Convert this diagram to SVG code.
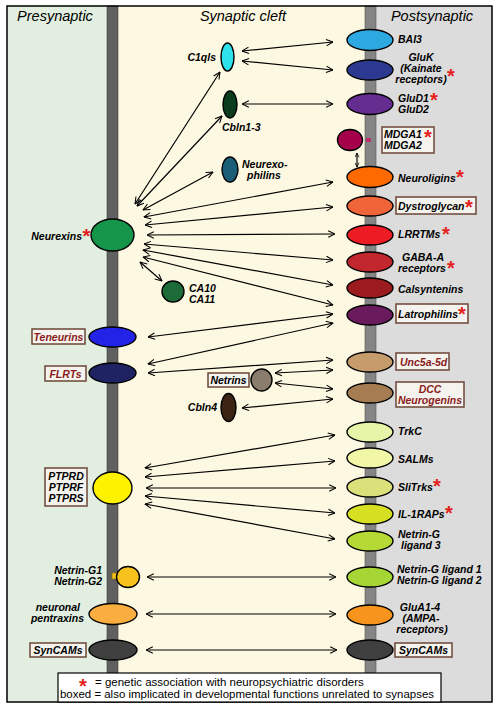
<svg xmlns="http://www.w3.org/2000/svg" width="500" height="709" viewBox="0 0 500 709">
<defs>
<marker id="ah" viewBox="0 0 10 10" refX="9.5" refY="5" markerWidth="8" markerHeight="8" markerUnits="userSpaceOnUse" orient="auto-start-reverse">
<path d="M1,1 L9.5,5 L1,9" fill="none" stroke="#000" stroke-width="1.3"/>
</marker>
<marker id="ahs" viewBox="0 0 10 10" refX="9.5" refY="5" markerWidth="5" markerHeight="5" markerUnits="userSpaceOnUse" orient="auto-start-reverse">
<path d="M1,1 L9.5,5 L1,9" fill="none" stroke="#000" stroke-width="1.6"/>
</marker>
<style>
.hd{font-family:"Liberation Sans",Arial,sans-serif;font-style:italic;font-size:14.5px;fill:#000}
.lb{font-family:"Liberation Sans",Arial,sans-serif;font-style:italic;font-weight:bold;font-size:10.5px;fill:#000}
.rd{fill:#8b1a1a}
.ast{font-family:"Liberation Sans",Arial,sans-serif;font-style:normal;font-weight:bold;font-size:20px;fill:#e3211c}
.nd{stroke:#000;stroke-width:1.4}
.bx{fill:#f4f3ee;stroke:#6b4636;stroke-width:1.5}
.cn line{stroke:#000;stroke-width:1.2;marker-start:url(#ah);marker-end:url(#ah)}
.cn line.sm{marker-start:url(#ahs);marker-end:url(#ahs)}
.lg{font-family:"Liberation Sans",Arial,sans-serif;font-size:11.5px;fill:#000}
</style>
</defs>
<g id="background">
<rect x="7" y="6" width="100" height="696" fill="#e2efe0"/>
<rect x="118" y="6" width="247" height="696" fill="#fdf8e1"/>
<rect x="376" y="6" width="116" height="696" fill="#dcdcdc"/>
<rect x="107" y="6" width="11" height="696" fill="#606060" stroke="#3a3a3a" stroke-width="0.6"/>
<rect x="365" y="6" width="11" height="696" fill="#858585" stroke="#555" stroke-width="0.6"/>
<rect x="7" y="6" width="485" height="696" fill="none" stroke="#000" stroke-width="1.5"/>
<text class="hd" x="55" y="21" text-anchor="middle">Presynaptic</text>
<text class="hd" x="243" y="21" text-anchor="middle">Synaptic cleft</text>
<text class="hd" x="432" y="21" text-anchor="middle">Postsynaptic</text>
</g>
<g class="cn" id="connectors">
<line x1="242" y1="51" x2="333" y2="42"/>
<line x1="242" y1="61" x2="333" y2="70"/>
<line x1="242" y1="104" x2="333" y2="104"/>
<line class="sm" x1="357" y1="153" x2="357" y2="167"/>
<line x1="135" y1="204" x2="220" y2="72"/>
<line x1="137" y1="206" x2="222" y2="116"/>
<line x1="143" y1="210" x2="213" y2="172"/>
<line x1="144" y1="217" x2="333" y2="182"/>
<line x1="145" y1="225" x2="333" y2="207"/>
<line x1="147" y1="235" x2="335" y2="234"/>
<line x1="144" y1="244" x2="333" y2="260"/>
<line x1="143" y1="250" x2="333" y2="285"/>
<line x1="143" y1="257" x2="333" y2="305"/>
<line x1="140" y1="262" x2="162" y2="281"/>
<line x1="148" y1="337" x2="333" y2="314"/>
<line x1="148" y1="364" x2="333" y2="323"/>
<line x1="148" y1="373" x2="333" y2="360"/>
<line x1="275" y1="373" x2="333" y2="370"/>
<line x1="275" y1="383" x2="333" y2="389"/>
<line x1="242" y1="408" x2="333" y2="399"/>
<line x1="145" y1="468" x2="335" y2="435"/>
<line x1="145" y1="477" x2="335" y2="461"/>
<line x1="146" y1="488" x2="336" y2="488"/>
<line x1="145" y1="496" x2="335" y2="513"/>
<line x1="145" y1="504" x2="335" y2="539"/>
<line x1="147" y1="577" x2="336" y2="577"/>
<line x1="146" y1="614" x2="336" y2="614"/>
<line x1="146" y1="650" x2="337" y2="650"/>
</g>
<g id="neurexins"><ellipse class="nd" cx="112.5" cy="235" rx="21.5" ry="16" fill="#15954a"/><text class="lb" x="82" y="240" text-anchor="end">Neurexins</text><text class="ast" x="82.5" y="243">*</text></g>
<g id="teneurins"><ellipse class="nd" cx="112.5" cy="337" rx="23.5" ry="10" fill="#2323e8"/><rect class="bx" x="32" y="329" width="53" height="15"/><text class="lb rd" x="58.5" y="341" text-anchor="middle">Teneurins</text></g>
<g id="flrts"><ellipse class="nd" cx="112.5" cy="373" rx="23.5" ry="10" fill="#1f2263"/><rect class="bx" x="45" y="366" width="41" height="15"/><text class="lb rd" x="65.5" y="378" text-anchor="middle">FLRTs</text></g>
<g id="ptpr"><ellipse class="nd" cx="112.5" cy="488" rx="19.5" ry="16" fill="#fff200"/><rect class="bx" x="45" y="468" width="42" height="38"/><text class="lb" text-anchor="middle"><tspan x="66" y="480">PTPRD</tspan><tspan x="66" y="491">PTPRF</tspan><tspan x="66" y="502">PTPRS</tspan></text></g>
<g id="netrin-g12"><rect x="112" y="573" width="6" height="6" fill="#f5c21b" stroke="#8a6a00" stroke-width="0.6"/><ellipse class="nd" cx="128" cy="577" rx="11.5" ry="10.5" fill="#f7c21b"/><text class="lb" text-anchor="end"><tspan x="102" y="574">Netrin-G1</tspan><tspan x="102" y="585">Netrin-G2</tspan></text></g>
<g id="pentraxins"><ellipse class="nd" cx="113" cy="614" rx="24" ry="10.5" fill="#fbae40"/><text class="lb" text-anchor="end"><tspan x="80" y="611">neuronal</tspan><tspan x="84" y="622">pentraxins</tspan></text></g>
<g id="syncams-pre"><ellipse class="nd" cx="113" cy="650" rx="24" ry="10" fill="#3f3f3f"/><rect class="bx" x="30" y="643" width="56" height="14"/><text class="lb" x="58" y="654" text-anchor="middle">SynCAMs</text></g>
<g id="c1qls"><ellipse class="nd" cx="227.5" cy="57" rx="6.5" ry="14" fill="#2ee2ea"/><text class="lb" x="216" y="61" text-anchor="end">C1qls</text></g>
<g id="cbln13"><ellipse class="nd" cx="230" cy="104.5" rx="7" ry="13.5" fill="#0b3d1c"/><text class="lb" x="222" y="131">Cbln1-3</text></g>
<g id="neurexophilins"><ellipse class="nd" cx="230" cy="169.5" rx="8" ry="12.5" fill="#1b5e78"/><text class="lb"><tspan x="242" y="168">Neurexo-</tspan><tspan x="247" y="179">philins</tspan></text></g>
<g id="ca10"><ellipse class="nd" cx="173" cy="291.5" rx="11" ry="10.5" fill="#1e6b3a"/><text class="lb"><tspan x="189" y="292">CA10</tspan><tspan x="189" y="303">CA11</tspan></text></g>
<g id="netrins"><ellipse class="nd" cx="261.5" cy="380" rx="10.5" ry="11" fill="#8a7d6e"/><rect class="bx" x="208" y="373" width="41" height="14"/><text class="lb" x="228.5" y="384" text-anchor="middle" fill="#3b2314">Netrins</text></g>
<g id="cbln4"><ellipse class="nd" cx="228.5" cy="407.5" rx="7.5" ry="14" fill="#3c2415"/><text class="lb" x="217" y="411" text-anchor="end">Cbln4</text></g>
<g id="bai3"><ellipse class="nd" cx="370" cy="40" rx="23" ry="10.5" fill="#2ea8e0"/><text class="lb" x="398" y="43">BAI3</text></g>
<g id="gluk"><ellipse class="nd" cx="370" cy="70" rx="23" ry="10" fill="#2b3990"/><text class="lb" text-anchor="middle"><tspan x="421" y="61">GluK</tspan><tspan x="421" y="72">(Kainate</tspan><tspan x="421" y="83">receptors)</tspan></text><text class="ast" x="447" y="83">*</text></g>
<g id="glud"><ellipse class="nd" cx="370" cy="104" rx="23" ry="10.5" fill="#662d91"/><text class="lb"><tspan x="398" y="102">GluD1</tspan><tspan x="398" y="113">GluD2</tspan></text><text class="ast" x="430" y="107">*</text></g>
<g id="mdga"><ellipse class="nd" cx="350" cy="140" rx="12.5" ry="10.5" fill="#a5004a"/><rect x="366" y="138" width="5" height="4" fill="#c0306a"/><rect class="bx" x="382" y="127" width="52" height="26"/><text class="lb"><tspan x="384" y="138">MDGA1</tspan><tspan x="384" y="149">MDGA2</tspan></text><text class="ast" x="424" y="144">*</text></g>
<g id="neuroligins"><ellipse class="nd" cx="370" cy="177" rx="23" ry="10.5" fill="#ff6a00"/><text class="lb" x="398" y="182">Neuroligins</text><text class="ast" x="456" y="184">*</text></g>
<g id="dystroglycan"><ellipse class="nd" cx="370" cy="206" rx="23" ry="10" fill="#f0643a"/><rect class="bx" x="396" y="197" width="80" height="17"/><text class="lb" x="398" y="210">Dystroglycan</text><text class="ast" x="465" y="214">*</text></g>
<g id="lrrtms"><ellipse class="nd" cx="370" cy="235" rx="23" ry="10" fill="#ed1c24"/><text class="lb" x="398" y="238">LRRTMs</text><text class="ast" x="442" y="241">*</text></g>
<g id="gabaa"><ellipse class="nd" cx="370" cy="262" rx="23" ry="10" fill="#c1272d"/><text class="lb"><tspan x="402" y="261">GABA-A</tspan><tspan x="398" y="272">receptors</tspan></text><text class="ast" x="447" y="275">*</text></g>
<g id="calsyntenins"><ellipse class="nd" cx="370" cy="288" rx="23" ry="10" fill="#9b1b1f"/><text class="lb" x="398" y="293">Calsyntenins</text></g>
<g id="latrophilins"><ellipse class="nd" cx="370" cy="315" rx="23" ry="10" fill="#6a1b5e"/><rect class="bx" x="396" y="304" width="72" height="19"/><text class="lb" x="398" y="318">Latrophilins</text><text class="ast" x="458" y="321">*</text></g>
<g id="unc5"><ellipse class="nd" cx="370" cy="362" rx="23" ry="10" fill="#c69c6d"/><rect class="bx" x="396" y="353" width="53" height="17"/><text class="lb rd" x="400" y="366">Unc5a-5d</text></g>
<g id="dcc"><ellipse class="nd" cx="370" cy="393" rx="23" ry="10" fill="#a67c52"/><rect class="bx" x="396" y="382" width="68" height="25"/><text class="lb rd" text-anchor="middle"><tspan x="430" y="393">DCC</tspan><tspan x="430" y="404">Neurogenins</tspan></text></g>
<g id="trkc"><ellipse class="nd" cx="370" cy="432" rx="23" ry="10" fill="#e6f5a8"/><text class="lb" x="398" y="435">TrkC</text></g>
<g id="salms"><ellipse class="nd" cx="370" cy="458" rx="23" ry="10" fill="#f2f7a8"/><text class="lb" x="398" y="463">SALMs</text></g>
<g id="slitrks"><ellipse class="nd" cx="370" cy="487" rx="23" ry="10" fill="#dce07a"/><text class="lb" x="398" y="491">SliTrks</text><text class="ast" x="433" y="493">*</text></g>
<g id="il1raps"><ellipse class="nd" cx="370" cy="514" rx="23" ry="10" fill="#d7df23"/><text class="lb" x="398" y="518">IL-1RAPs</text><text class="ast" x="445" y="520">*</text></g>
<g id="ngl3"><ellipse class="nd" cx="370" cy="541" rx="23" ry="10" fill="#b5d935"/><text class="lb"><tspan x="398" y="538">Netrin-G</tspan><tspan x="401" y="549">ligand 3</tspan></text></g>
<g id="ngl12"><ellipse class="nd" cx="370" cy="577" rx="23" ry="10" fill="#a6d636"/><text class="lb"><tspan x="397" y="573">Netrin-G ligand 1</tspan><tspan x="397" y="584">Netrin-G ligand 2</tspan></text></g>
<g id="glua"><ellipse class="nd" cx="370" cy="615" rx="23" ry="10" fill="#f7941d"/><text class="lb" text-anchor="middle"><tspan x="420" y="611">GluA1-4</tspan><tspan x="421" y="622">(AMPA-</tspan><tspan x="422" y="633">receptors)</tspan></text></g>
<g id="syncams-post"><ellipse class="nd" cx="370" cy="650" rx="23" ry="10" fill="#3f3f3f"/><rect class="bx" x="395" y="643" width="57" height="14"/><text class="lb" x="423.5" y="654" text-anchor="middle">SynCAMs</text></g>
<g id="legend"><rect x="58" y="673" width="383" height="29" fill="#fff" stroke="#000" stroke-width="1.2"/><text class="ast" x="79" y="693">*</text><text class="lg" x="95" y="686">= genetic association with neuropsychiatric disorders</text><text class="lg" x="60" y="698" textLength="374" lengthAdjust="spacingAndGlyphs">boxed = also implicated in developmental functions unrelated to synapses</text></g>
</svg>
